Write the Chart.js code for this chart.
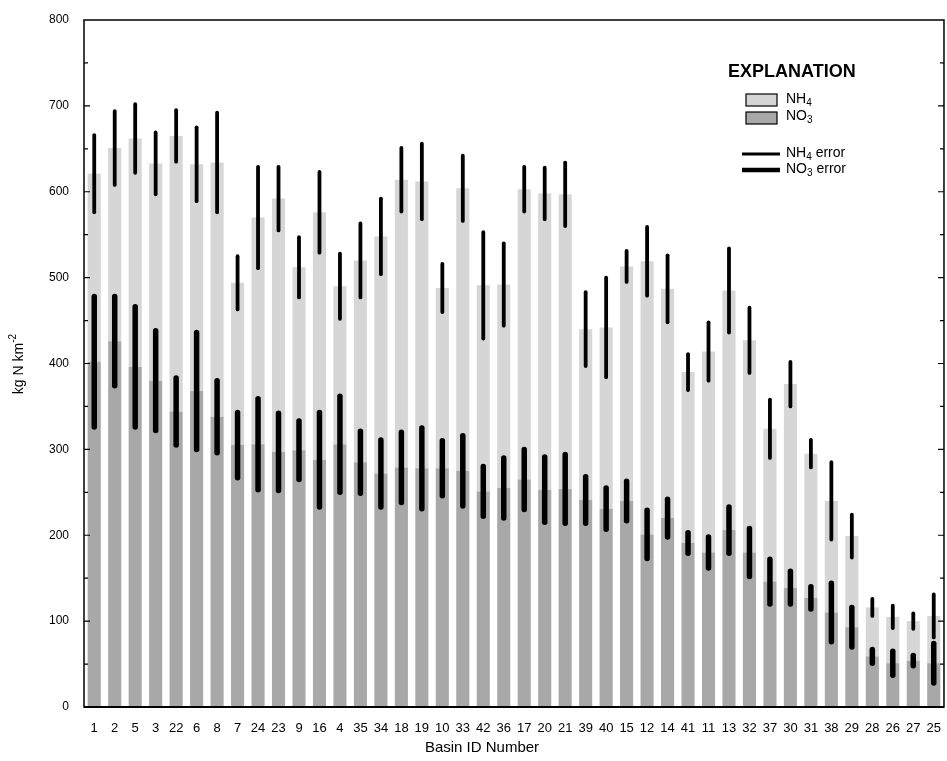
<!DOCTYPE html>
<html>
<head>
<meta charset="utf-8">
<script src="https://cdn.jsdelivr.net/npm/chart.js@4.4.1/dist/chart.umd.min.js"></script>
<style>
  body { margin: 0; background: #fff; }
  #wrap { width: 947px; height: 761px; position: relative; }
</style>
</head>
<body>
<div id="wrap"><canvas id="grafica"></canvas></div>
<script>
const basins = ['1','2','5','3','22','6','8','7','24','23','9','16','4','35','34','18','19','10','33','42','36',
  '17','20','21','39','40','15','12','14','41','11','13','32','37','30','31','38','29','28','26','27','25'];

// NO3 (bottom of stack) and NH4 (top of stack), kg N km-2
const no3 = [402,426,396,380,344,368,338,305,306,297,299,288,306,285,272,279,278,278,275,251,255,
  265,253,254,241,231,240,201,220,191,180,206,180,146,139,127,110,93,59,51,54,51];
const nh4 = [219,225,266,253,321,264,296,189,264,295,213,288,184,235,276,335,334,210,329,240,237,
  338,345,343,199,211,273,318,267,199,234,279,247,178,237,168,130,106,57,54,46,55];

// half-length of the error bars
const no3Err = [76,52,70,58,39,68,42,38,53,45,34,55,56,36,39,41,47,32,41,29,35,
  35,38,40,27,24,23,28,22,12,18,27,28,26,19,13,34,23,8,14,6,23];
const nh4Err = [45,43,40,36,30,43,58,31,59,37,35,47,38,43,44,37,44,28,38,62,48,
  26,30,37,43,58,18,40,39,21,34,49,38,34,26,16,45,25,10,13,9,25];

const FONT = '"Liberation Sans", Arial, Helvetica, sans-serif';
const colNH4 = '#d6d6d6';
const colNO3 = '#a8a8a8';

// texto con subindice / superindice
function textSub(ctx, parts, x, y, size) {
  let cx = x;
  parts.forEach(p => {
    const s = p.sub || p.sup ? Math.round(size * 0.72) : size;
    ctx.font = s + 'px ' + FONT;
    const dy = p.sub ? size * 0.3 : (p.sup ? -size * 0.38 : 0);
    ctx.fillText(p.t, cx, y + dy);
    cx += ctx.measureText(p.t).width;
  });
  return cx - x;
}

const extras = {
  id: 'extras',
  afterDatasetsDraw(chart) {
    const { ctx, scales: { x, y } } = chart;
    ctx.save();
    ctx.strokeStyle = '#000';
    ctx.lineCap = 'round';
    basins.forEach((b, i) => {
      const cx = x.getPixelForValue(i);
      const top = no3[i] + nh4[i];
      ctx.lineWidth = 3.8;
      ctx.beginPath();
      ctx.moveTo(cx, y.getPixelForValue(top - nh4Err[i]));
      ctx.lineTo(cx, y.getPixelForValue(top + nh4Err[i]));
      ctx.stroke();
      ctx.lineWidth = 5.5;
      ctx.beginPath();
      ctx.moveTo(cx, y.getPixelForValue(no3[i] - no3Err[i]));
      ctx.lineTo(cx, y.getPixelForValue(no3[i] + no3Err[i]));
      ctx.stroke();
    });
    ctx.restore();
  },
  afterDraw(chart) {
    const { ctx, chartArea: a, scales: { y } } = chart;
    ctx.save();
    // marco
    ctx.strokeStyle = '#000';
    ctx.lineWidth = 1.5;
    ctx.strokeRect(a.left, a.top, a.right - a.left, a.bottom - a.top);
    ctx.lineWidth = 2;
    ctx.beginPath();
    ctx.moveTo(a.left, a.bottom);
    ctx.lineTo(a.right, a.bottom);
    ctx.stroke();

    // marcas hacia dentro cada 50
    ctx.lineWidth = 1.2;
    for (let v = 50; v < 800; v += 50) {
      const py = y.getPixelForValue(v);
      const len = v % 100 === 0 ? 6 : 4;
      ctx.beginPath();
      ctx.moveTo(a.left, py); ctx.lineTo(a.left + len, py);
      ctx.moveTo(a.right, py); ctx.lineTo(a.right - len, py);
      ctx.stroke();
    }

    ctx.fillStyle = '#000';
    ctx.textBaseline = 'middle';

    // titulo eje x
    ctx.font = '15px ' + FONT;
    ctx.textAlign = 'center';
    ctx.fillText('Basin ID Number', 482, 748);

    // titulo eje y
    ctx.save();
    ctx.translate(19, 364);
    ctx.rotate(-Math.PI / 2);
    ctx.textAlign = 'left';
    ctx.font = '14px ' + FONT;
    const w = ctx.measureText('kg N km').width + 9;
    textSub(ctx, [{ t: 'kg N km' }, { t: '-2', sup: true }], -w / 2, 0, 14);
    ctx.restore();

    // explicacion
    ctx.textAlign = 'left';
    ctx.font = 'bold 18px ' + FONT;
    ctx.fillText('EXPLANATION', 728, 72);

    ctx.lineWidth = 1.2;
    ctx.fillStyle = colNH4;
    ctx.fillRect(746, 94, 31, 12);
    ctx.strokeRect(746, 94, 31, 12);
    ctx.fillStyle = colNO3;
    ctx.fillRect(746, 112, 31, 12);
    ctx.strokeRect(746, 112, 31, 12);

    ctx.lineWidth = 3;
    ctx.beginPath(); ctx.moveTo(742, 154); ctx.lineTo(780, 154); ctx.stroke();
    ctx.lineWidth = 4.5;
    ctx.beginPath(); ctx.moveTo(742, 170); ctx.lineTo(780, 170); ctx.stroke();

    ctx.fillStyle = '#000';
    textSub(ctx, [{ t: 'NH' }, { t: '4', sub: true }], 786, 99, 14);
    textSub(ctx, [{ t: 'NO' }, { t: '3', sub: true }], 786, 116, 14);
    textSub(ctx, [{ t: 'NH' }, { t: '4', sub: true }, { t: ' error' }], 786, 153, 14);
    textSub(ctx, [{ t: 'NO' }, { t: '3', sub: true }, { t: ' error' }], 786, 169, 14);
    ctx.restore();
  }
};

new Chart(document.getElementById('grafica'), {
  type: 'bar',
  data: {
    labels: basins,
    datasets: [
      { label: 'NO3', data: no3, backgroundColor: colNO3, barPercentage: 0.64, categoryPercentage: 1 },
      { label: 'NH4', data: nh4, backgroundColor: colNH4, barPercentage: 0.64, categoryPercentage: 1 }
    ]
  },
  options: {
    responsive: true,
    maintainAspectRatio: false,
    animation: false,
    layout: { padding: { top: 20, right: 2, left: 0, bottom: 0 } },
    plugins: {
      legend: { display: false },
      tooltip: { enabled: false }
    },
    scales: {
      x: {
        stacked: true,
        grid: { display: false },
        border: { display: false },
        ticks: { color: '#000', font: { family: FONT, size: 13 }, autoSkip: false, maxRotation: 0, padding: 6 },
        afterFit: s => { s.height = 54; }
      },
      y: {
        stacked: true,
        min: 0,
        max: 800,
        grid: { display: false },
        border: { display: false },
        ticks: { stepSize: 100, color: '#000', font: { family: FONT, size: 12 }, padding: 7 },
        afterFit: s => { s.width = 84; }
      }
    }
  },
  plugins: [extras]
});
</script>
</body>
</html>
